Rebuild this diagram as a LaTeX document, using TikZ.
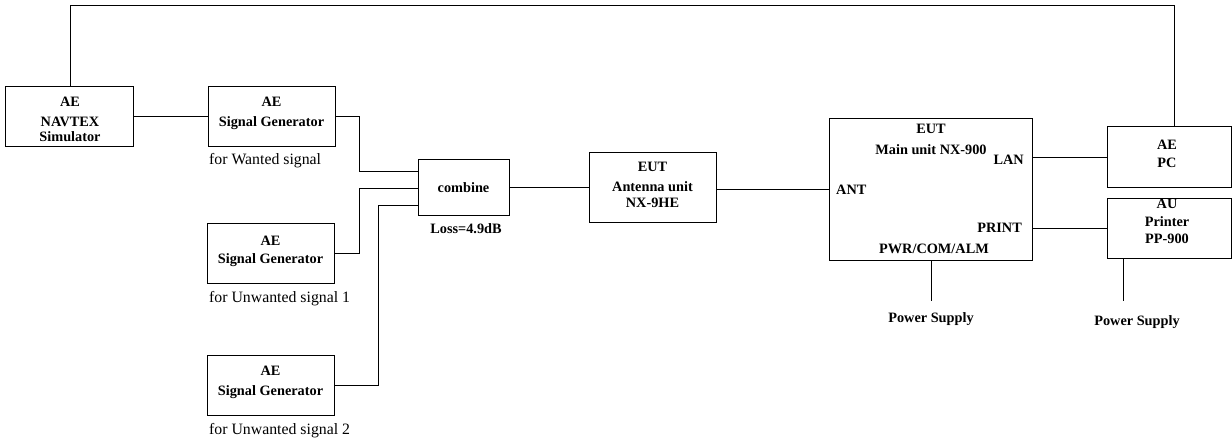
\documentclass[tikz,border=0pt]{standalone}
\usepackage{fontspec}
\setmainfont{Liberation Serif}
\usetikzlibrary{positioning, calc}

\begin{document}
\begin{tikzpicture}[x=1pt, y=-1pt,
  blk/.style={draw, line width=1pt, inner sep=0pt},
  lbl/.style={font=\fontsize{14.3}{18}\selectfont\bfseries, align=center, inner sep=0pt},
  note/.style={font=\fontsize{15.8}{18}\selectfont, inner sep=0pt, anchor=west},
  wire/.style={line width=1pt}]
  \useasboundingbox (0,0) rectangle (1232,443);
  % Boxes (pixel grid of the test setup, y downwards)
  \node[blk, minimum width=128pt, minimum height=60pt] (nav) at (69,117) {};
  \node[blk, minimum width=127pt, minimum height=60pt] (sgw) at (271.5,117) {};
  \node[blk, minimum width=127pt, minimum height=60pt] (sgu1) at (270.5,254) {};
  \node[blk, minimum width=127pt, minimum height=60pt] (sgu2) at (270.5,386) {};
  \node[blk, minimum width=91pt, minimum height=56pt] (comb) at (463.5,188) {};
  \node[blk, minimum width=127pt, minimum height=70pt] (antu) at (652.5,188) {};
  \node[blk, minimum width=203pt, minimum height=142pt] (mainu) at (930.5,190) {};
  \node[blk, minimum width=124pt, minimum height=61pt] (pc) at (1169,157.5) {};
  \node[blk, minimum width=124pt, minimum height=60pt] (prn) at (1169,229) {};
  % Box texts
  \node[lbl] (navt) at (70,119) {AE\\[2pt]NAVTEX\\[-3pt]Simulator};
  \node[lbl] (sgwt) at (271.5,113) {AE\\[2pt]Signal Generator};
  \node[lbl] (sgu1t) at (270.5,251) {AE\\Signal Generator};
  \node[lbl] (sgu2t) at (270.5,382) {AE\\[2pt]Signal Generator};
  \node[lbl] (combt) at (463.5,188) {combine};
  \node[lbl] (loss) at (466,229) {Loss=4.9dB};
  \node[lbl] (antut) at (652.5,185) {EUT\\[2pt]Antenna unit\\[-2pt]NX-9HE};
  \node[lbl] (mainut) at (931,139.5) {EUT\\[3pt]Main unit NX-900};
  \node[lbl, anchor=east] (lan) at (1024,160) {LAN};
  \node[lbl, anchor=west] (antp) at (836,190) {ANT};
  \node[lbl, anchor=east] (print) at (1022,228) {PRINT};
  \node[lbl] (pwr) at (934,249) {PWR/COM/ALM};
  \node[lbl] (pct) at (1167,154) {AE\\PC};
  \node[lbl] (prnt) at (1167,221.5) {AU\\Printer\\[-1pt]PP-900};
  \node[note] (wnote) at (209,161) {for Wanted signal};
  \node[note] (u1note) at (209,299) {for Unwanted signal 1};
  \node[note] (u2note) at (209,431) {for Unwanted signal 2};
  \node[lbl] (ps1t) at (931,319) {Power Supply};
  \node[lbl] (ps2t) at (1137,322) {Power Supply};
  % Wiring
  \coordinate (topl) at (70,6);
  \coordinate (topr) at (1174,6);
  \draw[wire] (nav.north -| topl) -- (topl) -- (topr) -- (pc.north -| topr);
  \draw[wire] (nav.east) -- (sgw.west);
  \coordinate (cin1) at ([yshift=16pt]comb.west);
  \coordinate (cin2) at ([yshift=-1pt]comb.west);
  \coordinate (cin3) at ([yshift=-18pt]comb.west);
  \draw[wire] (sgw.east) -| ($(cin1)+(-58,0)$) -- (cin1);
  \draw[wire] (sgu1.east) -| ($(cin2)+(-58,0)$) -- (cin2);
  \draw[wire] (sgu2.east) -| ($(cin3)+(-39,0)$) -- (cin3);
  \draw[wire] (comb.east) -- (antu.west);
  \draw[wire] (antu.east |- mainu.west) -- (mainu.west);
  \draw[wire] (mainu.east |- pc.west) -- (pc.west);
  \draw[wire] (mainu.east |- prn.west) -- (prn.west);
  \coordinate (ps1) at (931,301);
  \coordinate (ps2) at (1123,301);
  \draw[wire] (mainu.south -| ps1) -- (ps1);
  \draw[wire] (prn.south -| ps2) -- (ps2);
\end{tikzpicture}
\end{document}
